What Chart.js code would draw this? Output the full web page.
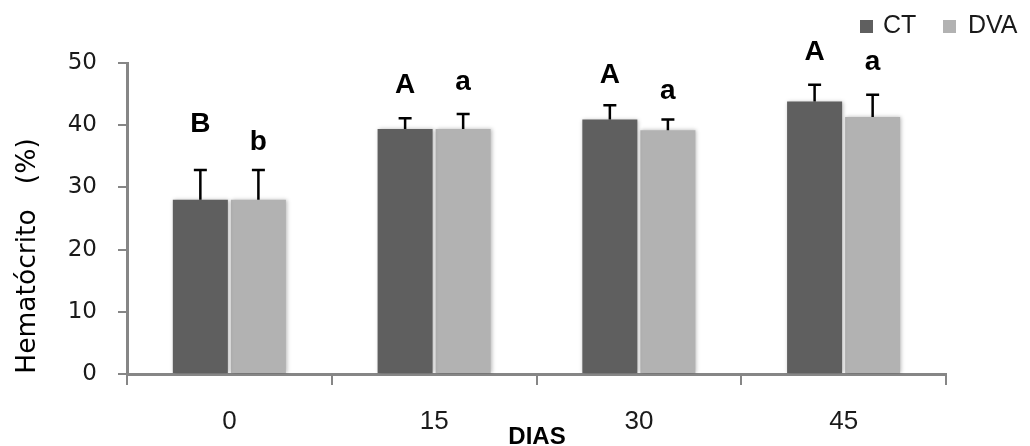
<!DOCTYPE html>
<html>
<head>
<meta charset="utf-8">
<script src="https://cdn.jsdelivr.net/npm/chart.js@4"></script>
<style>
html,body{margin:0;padding:0;background:#fff;}
#wrap{width:1030px;height:446px;position:relative;}
</style>
</head>
<body>
<div id="wrap"><canvas id="c" width="1030" height="446"></canvas></div>
<script>
const categories = ['0', '15', '30', '45'];
const seriesNames = ['CT', 'DVA'];
const ctValues = [28.0, 39.4, 40.9, 43.8];
const ctErrors = [4.8, 1.7, 2.3, 2.7];
const dvaValues = [28.0, 39.4, 39.2, 41.3];
const dvaErrors = [4.8, 2.4, 1.7, 3.6];
const ctLetters = ['B', 'A', 'A', 'A'];
const dvaLetters = ['b', 'a', 'a', 'a'];
const ctLetterY = [38.9, 45.2, 46.8, 50.5];
const dvaLetterY = [36.0, 45.7, 44.2, 48.9];
const yTicks = [0, 10, 20, 30, 40, 50];
const yTitle = 'Hematócrito   (%)';
const xTitle = 'DIAS';

const colors = ['#5f5f5f', '#b2b2b2'];
const axisColor = '#868686';
const sans = '"Liberation Sans", Arial, sans-serif';

const errors = [ctErrors, dvaErrors];
const letters = [ctLetters, dvaLetters];
const letterY = [ctLetterY, dvaLetterY];

const overlay = {
  id: 'overlay',
  beforeDatasetsDraw(chart) {
    const ctx = chart.ctx;
    ctx.save();
    ctx.shadowColor = 'rgba(0,0,0,0.28)';
    ctx.shadowBlur = 4;
    ctx.shadowOffsetX = 1;
    ctx.shadowOffsetY = 0;
  },
  afterDatasetsDraw(chart) {
    const ctx = chart.ctx;
    ctx.restore();
    const y = chart.scales.y;
    ctx.save();
    chart.data.datasets.forEach((ds, di) => {
      const meta = chart.getDatasetMeta(di);
      meta.data.forEach((bar, i) => {
        const v = ds.data[i];
        const e = errors[di][i];
        const x = bar.x;
        const y0 = y.getPixelForValue(v);
        const y1 = y.getPixelForValue(v + e);
        ctx.strokeStyle = '#000';
        ctx.lineWidth = 2.5;
        ctx.beginPath();
        ctx.moveTo(x, y0);
        ctx.lineTo(x, y1);
        ctx.moveTo(x - 6.5, y1);
        ctx.lineTo(x + 6.5, y1);
        ctx.stroke();
        ctx.fillStyle = '#000';
        ctx.font = 'bold 28px ' + sans;
        ctx.textAlign = 'center';
        ctx.textBaseline = 'alphabetic';
        ctx.fillText(letters[di][i], x, y.getPixelForValue(letterY[di][i]));
      });
    });
    ctx.restore();
  },
  afterDraw(chart) {
    const ctx = chart.ctx;
    ctx.save();
    ctx.translate(28, 256);
    ctx.rotate(-Math.PI / 2);
    ctx.fillStyle = '#000';
    ctx.font = '26.5px "DejaVu Sans", sans-serif';
    ctx.textAlign = 'center';
    ctx.textBaseline = 'middle';
    ctx.fillText(yTitle, 0, 0);
    ctx.restore();
    ctx.save();
    ctx.fillStyle = '#000';
    ctx.font = 'bold 24px ' + sans;
    ctx.textAlign = 'center';
    ctx.textBaseline = 'alphabetic';
    ctx.fillText(xTitle, 537, 444);
    ctx.restore();
    ctx.save();
    const items = [[860, 883], [943, 968]];
    ctx.font = '25px ' + sans;
    ctx.textBaseline = 'middle';
    ctx.textAlign = 'left';
    items.forEach((p, i) => {
      ctx.fillStyle = colors[i];
      ctx.fillRect(p[0], 20, 13, 13);
      ctx.fillStyle = '#1a1a1a';
      ctx.fillText(seriesNames[i], p[1], 26);
    });
    ctx.restore();
  }
};

new Chart(document.getElementById('c'), {
  type: 'bar',
  data: {
    labels: categories,
    datasets: [
      { label: seriesNames[0], data: ctValues, backgroundColor: colors[0], borderWidth: 0,
        categoryPercentage: 0.567, barPercentage: 0.948 },
      { label: seriesNames[1], data: dvaValues, backgroundColor: colors[1], borderWidth: 0,
        categoryPercentage: 0.567, barPercentage: 0.948 }
    ]
  },
  options: {
    responsive: false,
    animation: false,
    devicePixelRatio: 1,
    layout: { padding: { top: 63, right: 84, left: 0, bottom: 0 } },
    plugins: { legend: { display: false }, tooltip: { enabled: false } },
    scales: {
      x: {
        afterFit(s) { s.height = 72; },
        grid: { offset: true, drawOnChartArea: false, drawTicks: true, tickLength: 11, color: axisColor, lineWidth: 2 },
        border: { color: axisColor, width: 3 },
        ticks: { color: '#1a1a1a', font: { size: 26, family: sans }, padding: 21 }
      },
      y: {
        min: 0, max: 50,
        afterFit(s) { s.width = 127; },
        afterBuildTicks(s) { s.ticks = yTicks.map(v => ({ value: v })); },
        grid: { drawOnChartArea: false, drawTicks: true, tickLength: 9, color: axisColor, lineWidth: 2 },
        border: { color: axisColor, width: 3 },
        ticks: { color: '#1a1a1a', font: { size: 23, family: '"DejaVu Sans", sans-serif' }, padding: 21 }
      }
    }
  },
  plugins: [overlay]
});
</script>
</body>
</html>
